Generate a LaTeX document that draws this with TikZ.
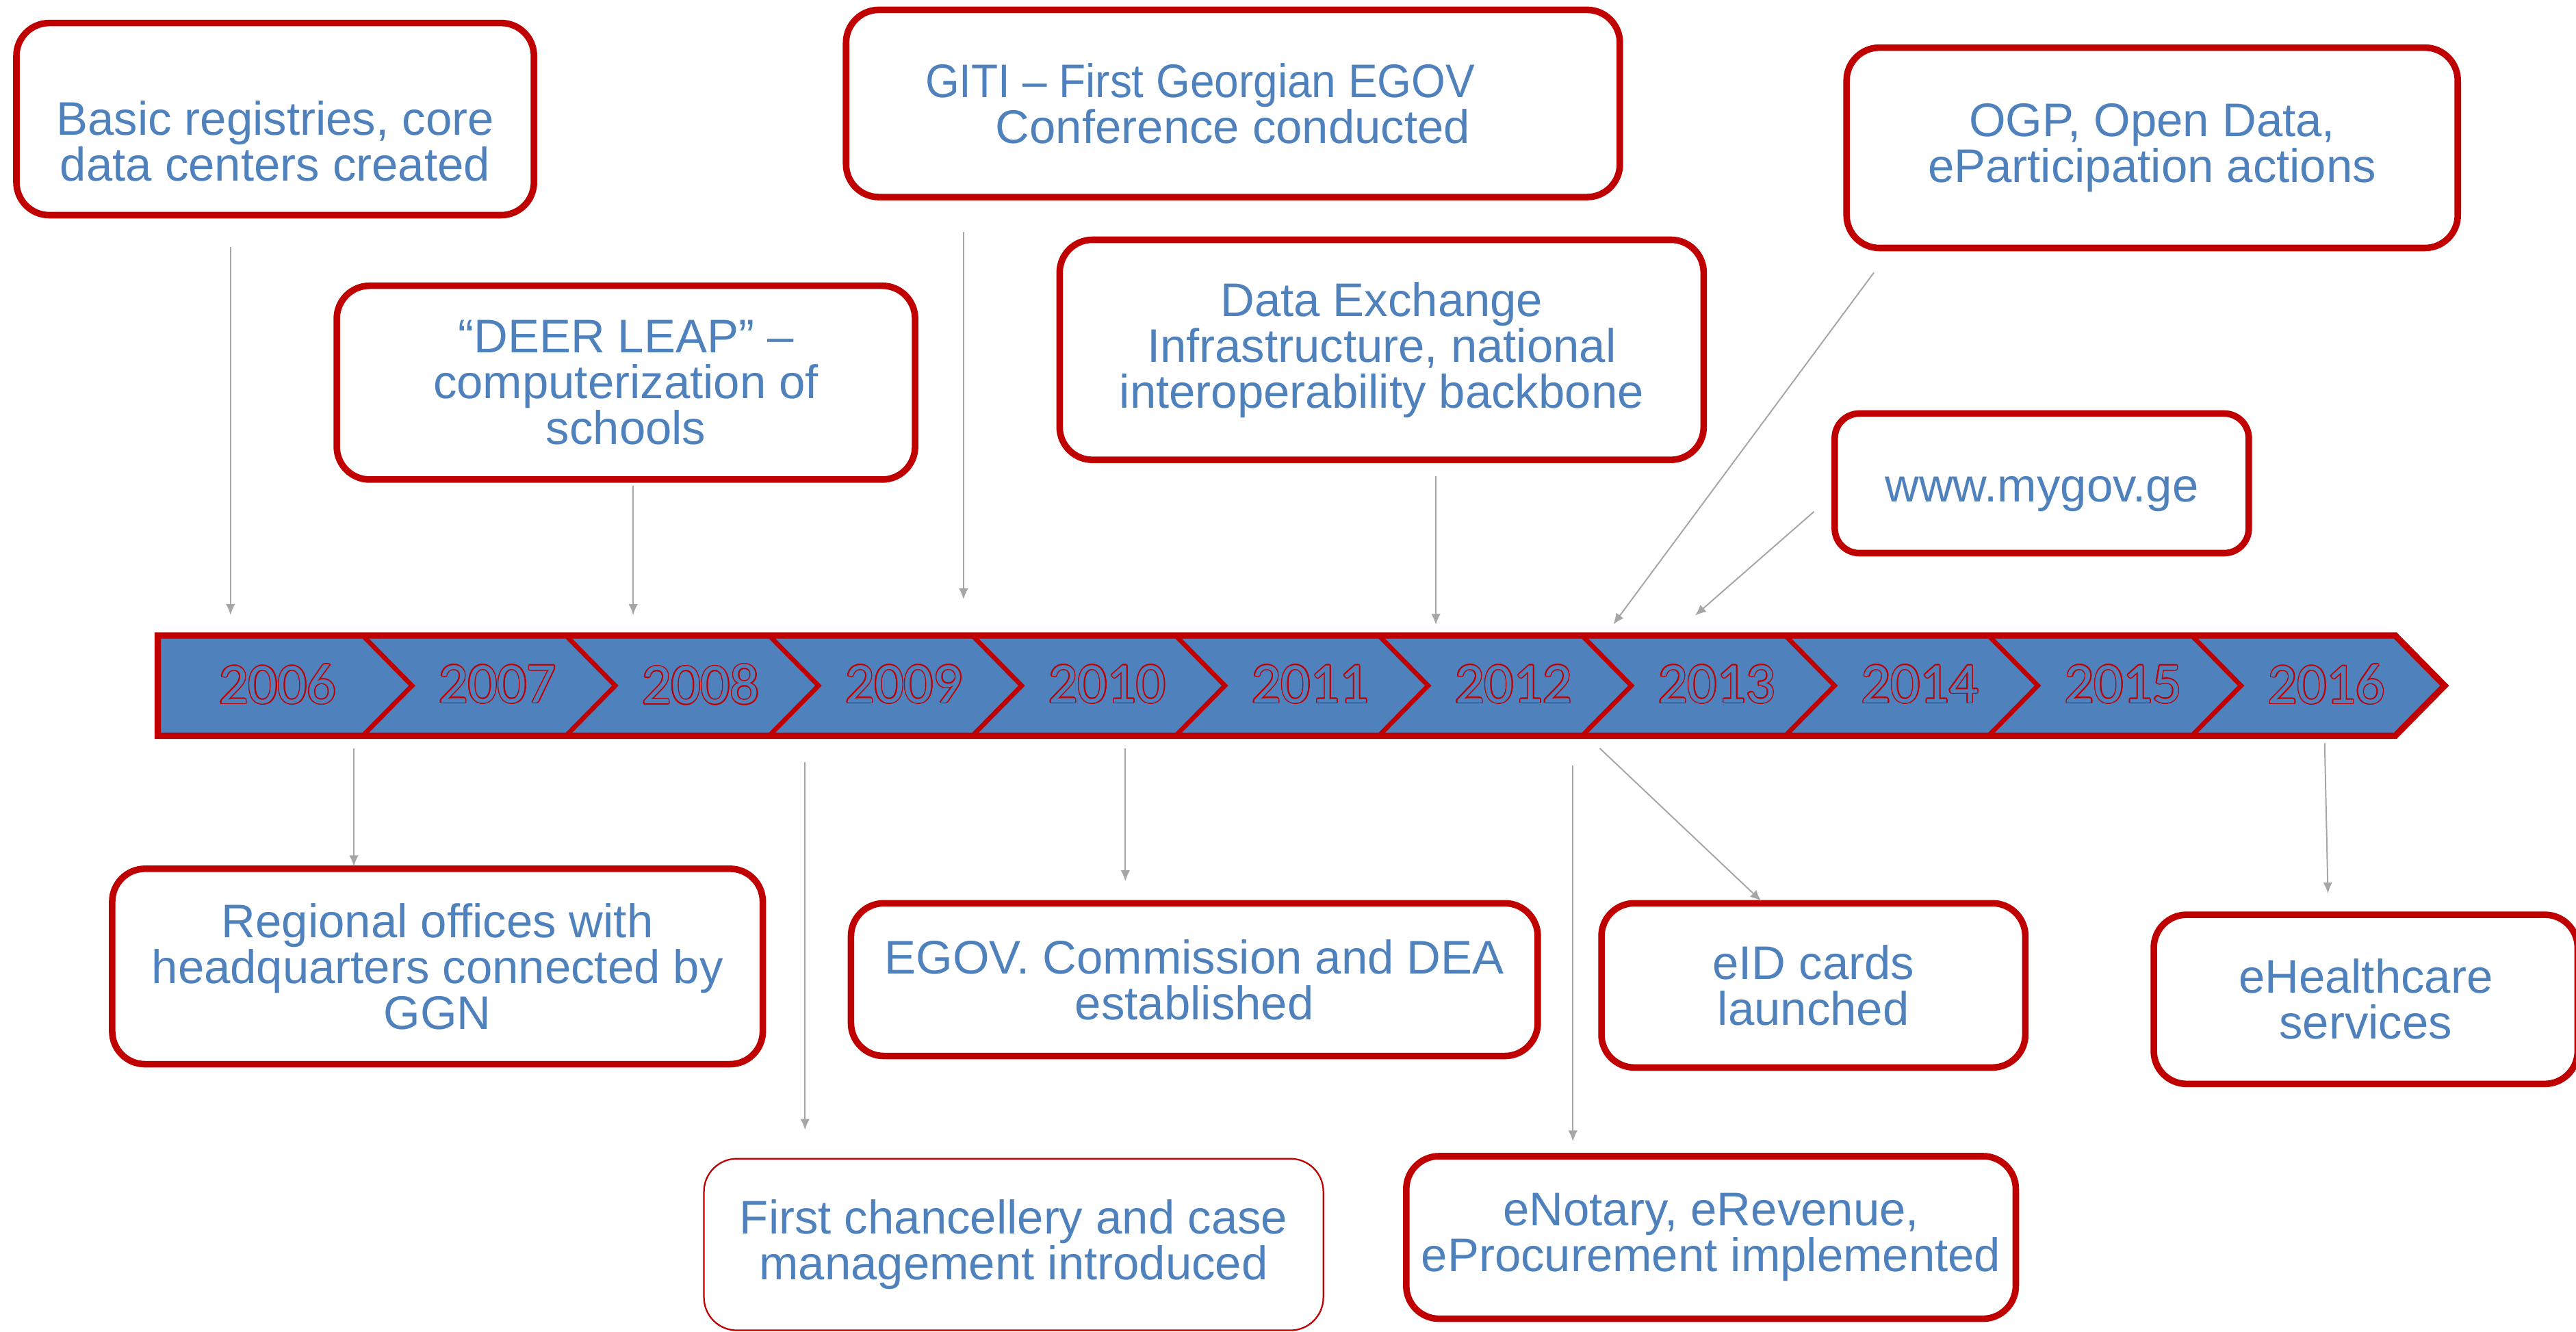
\documentclass[tikz,border=0pt]{standalone}
\usepackage{graphicx}
\usepackage{fontspec}
\setmainfont{Liberation Sans}
\newfontfamily\yearfont{Carlito}
\usepackage{contour}
\contourlength{0.55pt}
\usetikzlibrary{arrows.meta,calc}
\definecolor{evred}{HTML}{C00000}
\definecolor{evblue}{HTML}{4F81BD}
\definecolor{evgray}{HTML}{A6A6A6}
\tikzset{
  evbox/.style={draw=evred, line width=3.4pt, rounded corners=0.6cm, fill=white,
    text=evblue, align=center, inner sep=0pt,
    font=\fontsize{24.5}{23.8}\selectfont},
  thinbox/.style={evbox, line width=0.8pt},
  evtext/.style={text=evblue, align=center, inner sep=0pt,
    font=\fontsize{24.5}{23.8}\selectfont},
  link/.style={draw=evgray, line width=0.7pt, -{Latex[length=0.2cm,width=0.17cm]}},
  yearlbl/.style={text=evblue, inner sep=0pt, font=\yearfont\fontsize{30}{30}\selectfont},
  band/.style={fill=evblue},
  bandedge/.style={draw=evred, line width=3.3pt, line join=miter},
  sepline/.style={draw=evred, line width=2.4pt, line join=miter}
}
\begin{document}
\begin{tikzpicture}[x=0.03cm,y=-0.03cm]
\useasboundingbox (0,0) rectangle (1568,811);

% timeline band with chevron separators
\path[band] (96,387) -- (1458,387) -- (1488,417.5) -- (1458,448) -- (96,448) -- cycle;
\foreach \k in {1,...,10}{
  \pgfmathsetmacro{\xt}{220.8+(\k-1)*123.7}
  \path[sepline] (\xt,387) -- (\xt+30,417.5) -- (\xt,448);
}
\path[bandedge] (96,387) -- (1458,387) -- (1488,417.5) -- (1458,448) -- (96,448) -- cycle;

% years
\node[yearlbl] (y2006) at (169,417) {\contour{evred}{2006}};
\foreach \k/\yr in {1/2007,2/2008,3/2009,4/2010,5/2011,6/2012,7/2013,8/2014,9/2015,10/2016}{
  \pgfmathsetmacro{\xc}{302.8+(\k-1)*123.7}
  \node[yearlbl] (y\yr) at (\xc,417) {\contour{evred}{\yr}};
}

% events above the timeline
\node[evbox, minimum width=9.45cm, minimum height=3.51cm] (registries) at (167.5,72.5) {};
\node[evtext] (registriestext) at (167.5,86) {Basic registries, core\\data centers created};
\node[evbox, minimum width=14.13cm, minimum height=3.42cm] (giti) at (750.5,63)
  {\scalebox{0.928}[1]{GITI – First Georgian EGOV}\hspace{1.2cm}\mbox{}\\Conference conducted};
\node[evbox, minimum width=11.16cm, minimum height=3.66cm] (ogp) at (1310,90)
  {OGP, Open Data,\\eParticipation actions};
\node[evbox, minimum width=10.56cm, minimum height=3.54cm] (deer) at (381,233)
  {“DEER LEAP” –\\computerization of\\schools};
\node[evbox, minimum width=11.76cm, minimum height=4.02cm] (dex) at (841,213)
  {Data Exchange\\Infrastructure, national\\interoperability backbone};
\node[evbox, rounded corners=0.45cm, minimum width=7.56cm, minimum height=2.55cm,
  text height=0.88cm, text depth=0.2cm] (mygov) at (1242.8,294.3)
  {www.mygov.ge};

% events below the timeline
\node[evbox, minimum width=11.88cm, minimum height=3.57cm] (regional) at (266.3,588.5)
  {Regional offices with\\headquarters connected by\\GGN};
\node[evbox, minimum width=12.54cm, minimum height=2.79cm] (commission) at (727,596.5)
  {EGOV. Commission and DEA\\established};
\node[evbox, minimum width=7.74cm, minimum height=3.0cm] (eid) at (1103.8,600)
  {eID cards\\launched};
\node[evbox, minimum width=7.74cm, minimum height=3.09cm] (health) at (1440,608.5)
  {eHealthcare\\services};
\node[thinbox, minimum width=11.31cm, minimum height=3.135cm] (chancellery) at (617,757.8)
  {First chancellery and case\\management introduced};
\node[evbox, minimum width=11.13cm, minimum height=2.97cm] (enotary) at (1041.5,753.5)
  {eNotary, eRevenue,\\eProcurement implemented};

% connector end points
\coordinate (t1s) at (140.3,150.5);  \coordinate (t1e) at (140.3,374.5);
\coordinate (t2s) at (385.4,295.8);  \coordinate (t2e) at (385.4,374.5);
\coordinate (t3s) at (586.5,141.3);  \coordinate (t3e) at (586.5,365);
\coordinate (t4s) at (874,290);      \coordinate (t4e) at (874,380.5);
\coordinate (t5s) at (1140.6,166);   \coordinate (t5e) at (982,380.2);
\coordinate (t6s) at (1104.2,311.5); \coordinate (t6e) at (1031.8,374.8);
\coordinate (b1s) at (215.4,455.6);  \coordinate (b1e) at (215.4,527.5);
\coordinate (b2s) at (490,464);      \coordinate (b2e) at (490,688);
\coordinate (b3s) at (685,455.6);    \coordinate (b3e) at (685,536.6);
\coordinate (b4s) at (957.4,466);    \coordinate (b4e) at (957.4,695);
\coordinate (b5s) at (973.7,455.6);  \coordinate (b5e) at (1072,548.6);
\coordinate (b6s) at (1415,452.6);   \coordinate (b6e) at (1417,544);

% connectors
\foreach \c in {t1,t2,t3,t4,t5,t6,b1,b2,b3,b4,b5,b6}{
  \draw[link] (\c s) -- (\c e);
}
\end{tikzpicture}
\end{document}
